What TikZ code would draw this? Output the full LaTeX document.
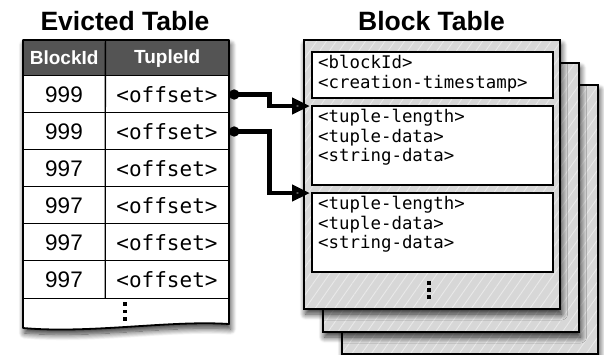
\documentclass[tikz,border=0pt]{standalone}
\usepackage{fontspec}
\setmainfont{Liberation Sans}
\newfontfamily\codefont{DejaVu Sans Mono}
\usetikzlibrary{arrows.meta,shadows.blur,patterns.meta,calc}
\definecolor{headgray}{HTML}{545454}
\definecolor{pagegray}{HTML}{D7D7D7}
\definecolor{hatchgray}{HTML}{E9E9E9}

\begin{document}
\begin{tikzpicture}[x=1pt,y=-1pt,
  title/.style={font=\bfseries\fontsize{26.5}{30}\selectfont, inner sep=0pt},
  head/.style={font=\bfseries\fontsize{19}{21}\selectfont, text=white, minimum height=36pt, inner sep=0pt},
  idcell/.style={font=\fontsize{22.5}{24}\selectfont, minimum width=82pt, minimum height=37pt, inner sep=0pt},
  offcell/.style={font=\codefont\fontsize{21}{24}\selectfont, minimum width=124pt, minimum height=37pt, inner sep=0pt},
  softshadow/.style={blur shadow={shadow xshift=1.5pt, shadow yshift=-5pt, shadow blur radius=6pt, shadow blur steps=12, shadow opacity=80}},
  gridline/.style={line width=1.3pt},
  page/.style={draw=black, line width=1.5pt, softshadow, preaction={fill=pagegray},
    pattern={Lines[angle=55,distance=8pt,line width=0.9pt]}, pattern color=hatchgray,
    minimum width=256pt, minimum height=269pt, inner sep=0pt, outer sep=0pt, anchor=north west},
  field/.style={draw=black, line width=1.5pt, fill=white, minimum width=241pt, inner sep=0pt, outer sep=0pt, anchor=north west},
  fieldtext/.style={font=\codefont\fontsize{17.4}{19.5}\selectfont, align=left, inner sep=0pt, anchor=north west},
  link/.style={line width=4.8pt, {Circle[length=10pt]}-{Triangle[length=18pt,width=16pt]}},
  dot/.style={fill=black}
]
\useasboundingbox (0,0) rectangle (604,354);

% ---------- Evicted Table ----------
\node[title, anchor=base] (ttlE) at (125,30) {Evicted Table};

% sheet with a torn (wavy) lower edge
\fill[white, softshadow] (23,40) -- (229,40) -- (229,324)
  .. controls (170,320) and (90,334) .. (23,328) -- cycle;

\node[head, minimum width=82pt, anchor=north west] (hA) at (23,40) {};
\node[head, minimum width=124pt, anchor=north west] (hB) at (105,40) {};
\fill[headgray] (hA.north west) rectangle (hB.south east);
\node[head] at (hA.center) {BlockId};
\node[head] at (hB.center) {TupleId};

\foreach \i/\v [evaluate=\i as \y using 94.5+37*(\i-1)] in {1/999,2/999,3/997,4/997,5/997,6/997}{
  \node[idcell] (b\i) at (64,\y) {\v};
  \node[offcell] (t\i) at (167,\y) {<offset>};
  \draw[gridline] (b\i.north west) -- (t\i.north east);
}
\draw[gridline] (b6.south west) -- (t6.south east);
\draw[gridline] (hA.north east) -- (b6.south east);

% vertical ellipsis of the last row
\foreach \y in {304,311.5,319}
  \fill[dot] (123.2,\y-1.8) rectangle (126.8,\y+1.8);

\draw[line width=1.8pt, line join=round] (23,40) -- (229,40) -- (229,324)
  .. controls (170,320) and (90,334) .. (23,328) -- cycle;

% ---------- Block Table ----------
\node[title, anchor=base] (ttlB) at (431.5,30) {Block Table};

\node[page] (pg3) at (342,85) {};
\node[page] (pg2) at (323,63) {};
\node[page] (pg1) at (304,40) {};

\node[field, minimum height=46pt] (blk1) at (312,52) {};
\node[field, minimum height=79pt] (blk2) at (312,106) {};
\node[field, minimum height=79pt] (blk3) at (312,193) {};

\node[fieldtext] (txt1) at ([shift={(6,3)}]blk1.north west) {<blockId>\\<creation-timestamp>};
\node[fieldtext] (txt2) at ([shift={(6,3)}]blk2.north west) {<tuple-length>\\<tuple-data>\\<string-data>};
\node[fieldtext] (txt3) at ([shift={(6,3)}]blk3.north west) {<tuple-length>\\<tuple-data>\\<string-data>};

\foreach \y in {283,290,297}
  \fill[dot] (427.2,\y-1.8) rectangle (430.8,\y+1.8);

% ---------- pointers from tuple offsets into blocks ----------
\coordinate (bend) at (269.5,0);
\draw[link] (t1.east) -- (t1.east -| bend) -- (bend |- blk2.north west) -- ([xshift=-2pt]blk2.north west);
\draw[link] (t2.east) -- (t2.east -| bend) -- (bend |- blk3.north west) -- ([xshift=-2pt]blk3.north west);
\end{tikzpicture}
\end{document}
